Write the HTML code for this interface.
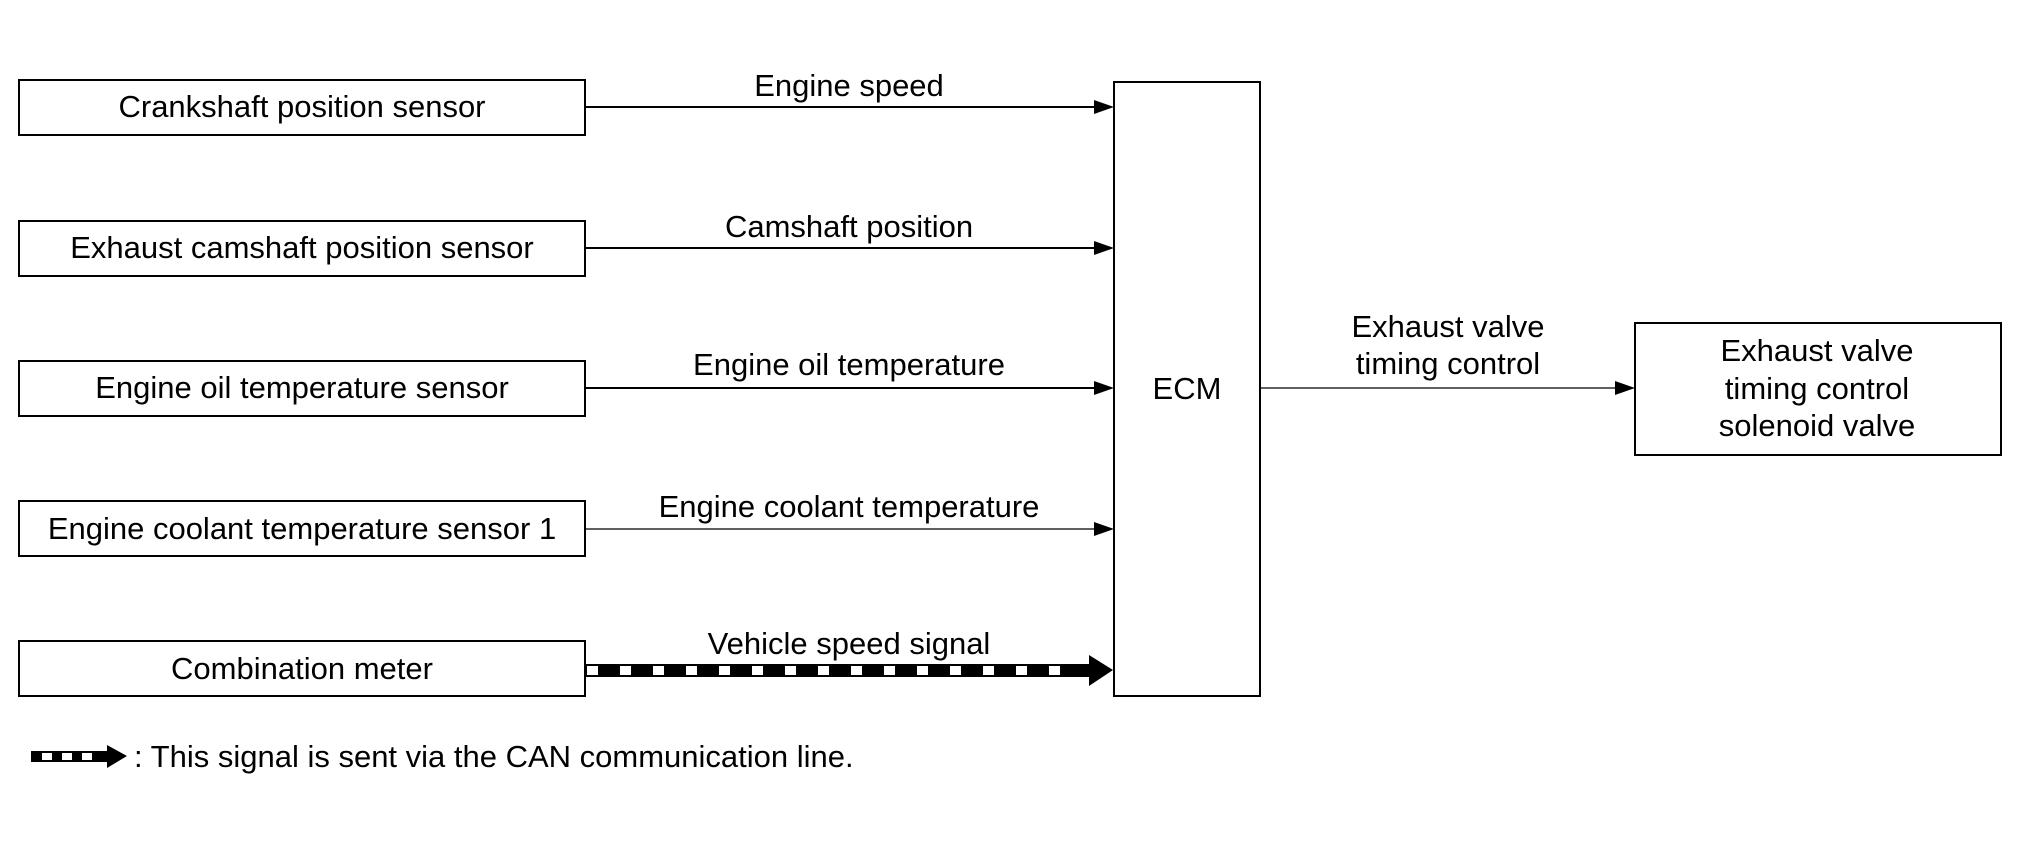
<!DOCTYPE html>
<html><head><meta charset="utf-8"><style>
html,body{margin:0;padding:0;background:#fff;}
svg{display:block;}
text{font-family:"Liberation Sans",Arial,sans-serif;font-size:31px;fill:#000;}
</style></head><body>
<svg width="2020" height="851" viewBox="0 0 2020 851" xmlns="http://www.w3.org/2000/svg">
<g fill="none" stroke="#000" stroke-width="2">
<rect x="19" y="80" width="566" height="55"/>
<rect x="19" y="221" width="566" height="55"/>
<rect x="19" y="361" width="566" height="55"/>
<rect x="19" y="501" width="566" height="55"/>
<rect x="19" y="641" width="566" height="55"/>
<rect x="1114" y="82" width="146" height="614"/>
<rect x="1635" y="323" width="366" height="132"/>
<line x1="585" y1="107" x2="1096" y2="107"/>
<line x1="585" y1="248" x2="1096" y2="248"/>
<line x1="585" y1="388" x2="1096" y2="388"/>
<line x1="585" y1="529" x2="1096" y2="529" stroke-width="1.2"/>
<line x1="1260" y1="388" x2="1616" y2="388" stroke-width="1.2"/>
</g>
<g fill="#000">
<polygon points="1114,107 1094,100 1094,114"/>
<polygon points="1114,248 1094,241 1094,255"/>
<polygon points="1114,388 1094,381 1094,395"/>
<polygon points="1114,529 1094,522 1094,536"/>
<polygon points="1635,388 1615,381 1615,395"/>
<rect x="585" y="664" width="506" height="13"/>
<polygon points="1113,670 1089,655 1089,686"/>
<rect x="31" y="751" width="76" height="11"/>
<polygon points="127,756 107,745 107,768"/>
</g>
<g fill="#fff">
<rect x="587" y="666" width="11" height="9"/><rect x="620" y="666" width="11" height="9"/><rect x="653" y="666" width="11" height="9"/><rect x="686" y="666" width="11" height="9"/><rect x="719" y="666" width="11" height="9"/><rect x="752" y="666" width="11" height="9"/><rect x="785" y="666" width="11" height="9"/><rect x="818" y="666" width="11" height="9"/><rect x="851" y="666" width="11" height="9"/><rect x="884" y="666" width="11" height="9"/><rect x="917" y="666" width="11" height="9"/><rect x="950" y="666" width="11" height="9"/><rect x="983" y="666" width="11" height="9"/><rect x="1016" y="666" width="11" height="9"/><rect x="1049" y="666" width="11" height="9"/>
<rect x="42" y="753" width="10" height="7"/><rect x="62" y="753" width="10" height="7"/><rect x="82" y="753" width="10" height="7"/>
</g>
<g text-anchor="middle">
<text x="302" y="117">Crankshaft position sensor</text>
<text x="302" y="258">Exhaust camshaft position sensor</text>
<text x="302" y="398">Engine oil temperature sensor</text>
<text x="302" y="539">Engine coolant temperature sensor 1</text>
<text x="302" y="679">Combination meter</text>
<text x="849" y="96">Engine speed</text>
<text x="849" y="237">Camshaft position</text>
<text x="849" y="375">Engine oil temperature</text>
<text x="849" y="517">Engine coolant temperature</text>
<text x="849" y="654">Vehicle speed signal</text>
<text x="1187" y="399">ECM</text>
<text x="1448" y="337">Exhaust valve</text>
<text x="1448" y="374">timing control</text>
<text x="1817" y="361">Exhaust valve</text>
<text x="1817" y="399">timing control</text>
<text x="1817" y="436">solenoid valve</text>
</g>
<text x="134" y="767">: This signal is sent via the CAN communication line.</text>
</svg>
</body></html>
